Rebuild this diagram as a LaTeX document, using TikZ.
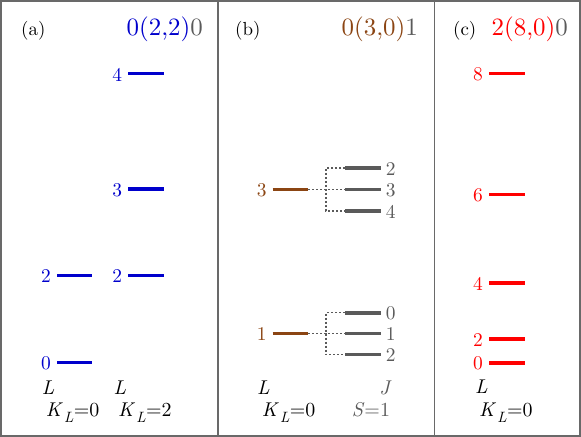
\documentclass[tikz,border=0pt]{standalone}
\usepackage{fontspec}
\setmainfont{lmroman10-regular.otf}[ItalicFont=lmroman10-italic.otf,BoldFont=lmroman10-bold.otf]
\definecolor{levblue}{RGB}{0,0,204}
\definecolor{levbrown}{RGB}{139,69,19}
\definecolor{levgray}{RGB}{90,90,90}
\definecolor{levred}{RGB}{255,0,0}
\definecolor{framegray}{RGB}{105,105,105}
\newcommand\mylevel[6]{%
  \coordinate (#1L) at (#2,#4);
  \coordinate (#1R) at (#3,#4);
  \draw[levline,#5] (#1L) -- (#1R);
  \node[lvlab,text=#5,anchor=east] (#1t) at ([xshift=-6bp,yshift=-1bp]#1L) {#6};
}
\newcommand\mylevelr[6]{%
  \coordinate (#1L) at (#2,#4);
  \coordinate (#1R) at (#3,#4);
  \draw[levline,#5] (#1L) -- (#1R);
  \node[lvlab,text=#5,anchor=west] (#1t) at ([xshift=5bp,yshift=-1bp]#1R) {#6};
}
\newcommand\myKL[1]{\textit{K}\kern1pt\raisebox{-0.28em}{\fontsize{15}{16}\selectfont\textit{L}}\kern0.5pt=#1}
\begin{document}
\begin{tikzpicture}[x=1bp,y=-1bp,
  levline/.style={line width=3.6bp},
  lvlab/.style={inner sep=0pt,font=\fontsize{19.5}{21}\selectfont},
  paneltag/.style={inner sep=0pt,anchor=base west,font=\fontsize{19}{21}\selectfont},
  titletag/.style={inner sep=0pt,anchor=base east,font=\fontsize{25}{27}\selectfont},
  axtag/.style={inner sep=0pt,anchor=base west,font=\fontsize{20}{22}\selectfont},
  dotline/.style={levgray,line width=1.4bp,dash pattern=on 2bp off 2bp}]
\useasboundingbox (0,0) rectangle (581,437);
\draw[framegray,line width=1.5bp] (1,1) rectangle (580,436);
\draw[framegray,line width=1.5bp] (218,1) -- (218,436);
\draw[framegray,line width=1.5bp] (434.5,1) -- (434.5,436);
% panel (a)
\node[paneltag] (ta) at (21,36) {(a)};
\node[titletag] (tia) at (203,36) {\textcolor{levblue}{0(2,2)}\textcolor{levgray}{0}};
\mylevel{a2}{57}{92}{275.5}{levblue}{2}
\mylevel{a0}{57}{92}{362.5}{levblue}{0}
\mylevel{b4}{128.3}{164.3}{73.7}{levblue}{4}
\mylevel{b3}{128.3}{164.3}{189}{levblue}{3}
\mylevel{b2}{128.3}{164.3}{275.5}{levblue}{2}
\node[axtag] (aL1) at (41.7,394.3) {\textit{L}};
\node[axtag] (aL2) at (113.3,394.3) {\textit{L}};
\node[axtag] (aK1) at (45.7,416.5) {\myKL{0}};
\node[axtag] (aK2) at (118,416.5) {\myKL{2}};
% panel (b)
\node[paneltag] (tb) at (235,36) {(b)};
\node[titletag] (tib) at (418,36) {\textcolor{levbrown}{0(3,0)}\textcolor{levgray}{1}};
\mylevel{c3}{272.7}{308.3}{189.5}{levbrown}{3}
\mylevel{c1}{272.7}{308.3}{333.5}{levbrown}{1}
\mylevelr{g2}{345}{380.7}{168}{levgray}{2}
\mylevelr{g3}{345}{380.7}{189.5}{levgray}{3}
\mylevelr{g4}{345}{380.7}{211}{levgray}{4}
\mylevelr{h0}{345}{380.7}{312.7}{levgray}{0}
\mylevelr{h1}{345}{380.7}{333.5}{levgray}{1}
\mylevelr{h2}{345}{380.7}{354.3}{levgray}{2}
\coordinate (s3) at (326,189.5);
\coordinate (s1) at (326,333.5);
\draw[dotline] (c3R) -- (s3) -- (g3L);
\draw[dotline] (g2L) -| (s3) |- (g4L);
\draw[dotline] (c1R) -- (s1) -- (h1L);
\draw[dotline] (h0L) -| (s1) |- (h2L);
\node[axtag] (bL) at (257,394.3) {\textit{L}};
\node[axtag,text=levgray,anchor=base east] (bJ) at (392,394.3) {\textit{J}};
\node[axtag] (bK) at (261.7,416.5) {\myKL{0}};
\node[axtag,text=levgray] (bS) at (351.7,416.5) {\textit{S}=1};
% panel (c)
\node[paneltag] (tc) at (453,36) {(c)};
\node[titletag] (tic) at (568,36) {\textcolor{levred}{2(8,0)}\textcolor{levgray}{0}};
\mylevel{r8}{489}{525}{73.7}{levred}{8}
\mylevel{r6}{489}{525}{194.5}{levred}{6}
\mylevel{r4}{489}{525}{282.7}{levred}{4}
\mylevel{r2}{489}{525}{339}{levred}{2}
\mylevel{r0}{489}{525}{362.7}{levred}{0}
\node[axtag] (cL) at (475,393.5) {\textit{L}};
\node[axtag] (cK) at (479,416.5) {\myKL{0}};
\end{tikzpicture}
\end{document}
